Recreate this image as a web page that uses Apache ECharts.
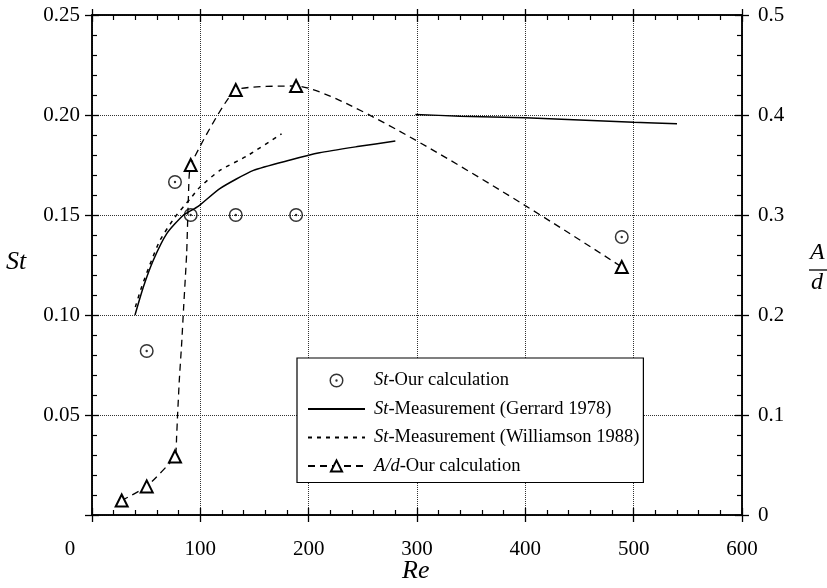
<!DOCTYPE html>
<html><head><meta charset="utf-8">
<script src="https://cdn.jsdelivr.net/npm/echarts@6/dist/echarts.min.js"></script>
<style>html,body{margin:0;padding:0;background:#fff}#c{width:827px;height:588px}</style>
</head><body><div id="c"></div><script>
// ---- data ----
const stOur = [[50.5,0.082],[76.6,0.1665],[91.1,0.150],[132.7,0.150],[188.4,0.150],[489,0.139]];
const gerrard1 = [[39.7,0.100],[47.4,0.114],[56.6,0.1274],[69,0.1407],[84.3,0.1499],[98,0.1543],[118,0.1632],[149,0.1723],[183,0.1775],[210,0.1811],[245,0.1842],[280,0.187]];
const gerrard2 = [[298.5,0.2003],[340,0.1994],[400,0.1986],[500,0.1964],[540,0.1956]];
const williamson = [[40,0.104],[45.8,0.114],[55,0.1274],[62.8,0.1374],[76.6,0.149],[90.5,0.158],[99.7,0.164],[118,0.1723],[143,0.1795],[175,0.1906]];
const adTri = [[27.4,0.0145],[50.5,0.0286],[76.6,0.0585],[91.1,0.350],[132.7,0.425],[188.4,0.429],[489,0.248]];
const adCurve = [[78.1,0.0785],[79,0.100],[80.6,0.135],[82.8,0.172],[84.6,0.208],[87.4,0.262],[89,0.318]];
const names = ['St-Our calculation','St-Measurement (Gerrard 1978)','St-Measurement (Williamson 1988)','A/d-Our calculation'];

const FONT = 'Liberation Serif';
const adData = adTri.map(p => ({value:p}))
  .concat(adCurve.map(p => ({value:p, symbol:'none'})))
  .sort((a,b) => a.value[0]-b.value[0]);

const circlePath = 'path://M10,0A10,10 0 1,1 10,20A10,10 0 1,1 10,0Z M10,2.1A7.9,7.9 0 1,0 10,17.9A7.9,7.9 0 1,0 10,2.1Z M10,8.3A1.7,1.7 0 1,1 10,11.7A1.7,1.7 0 1,1 10,8.3Z';

const axLine = {show:true, onZero:false, lineStyle:{color:'#000', width:1.5}};
const lbl = {color:'#000', fontFamily:FONT, fontSize:21};
function xAx(pos, inside, opts){
  return Object.assign({type:'value', position:pos, min:0, max:600, interval:100,
    axisLine:axLine, axisTick:{show:true, inside:inside, length:7, lineStyle:{color:'#000', width:1.3}},
    minorTick:{show:false}, axisLabel:{show:false}, splitLine:{show:false}}, opts||{});
}
function yAx(pos, max, itv, inside, opts){
  return Object.assign({type:'value', position:pos, min:0, max:max, interval:itv,
    axisLine:axLine, axisTick:{show:true, inside:inside, length:7, lineStyle:{color:'#000', width:1.3}},
    minorTick:{show:false}, axisLabel:{show:false}, splitLine:{show:false}}, opts||{});
}
const minor = {show:true, splitNumber:5, length:5, lineStyle:{color:'#000', width:1.2}};
const grid = {type:'dotted', color:'#333', width:1};
const noSym = {color:'rgba(0,0,0,0)', borderWidth:0, opacity:0};

const chart = echarts.init(document.getElementById('c'), null, {renderer:'canvas'});
chart.setOption({
  animation:false,
  backgroundColor:'#fff',
  grid:{left:92, right:85, top:15, bottom:73, containLabel:false, outerBoundsMode:'none'},
  xAxis:[
    xAx('bottom', false, {axisLabel:{show:true, margin:24, color:'#000', fontFamily:FONT, fontSize:21,
      formatter:v => v===0 ? '{z|0}' : String(v),
      rich:{z:{fontFamily:FONT, fontSize:21, color:'#000', padding:[0,44,0,0]}}},
      splitLine:{show:true, lineStyle:grid}}),
    xAx('bottom', true, {minorTick:minor}),
    xAx('top', true, {minorTick:minor}),
    xAx('top', false, {axisTick:{show:true, inside:false, length:6, lineStyle:{color:'#000', width:1.3}}})
  ],
  yAxis:[
    yAx('left', 0.25, 0.05, false, {axisLabel:Object.assign({show:true, margin:12,
      formatter:v => v===0 ? '' : v.toFixed(2)}, lbl), splitLine:{show:true, lineStyle:grid}}),
    yAx('left', 0.25, 0.05, true, {minorTick:minor}),
    yAx('right', 0.5, 0.1, false, {axisLabel:Object.assign({show:true, margin:16,
      formatter:v => v===0 ? '0' : v.toFixed(1)}, lbl)}),
    yAx('right', 0.5, 0.1, true, {minorTick:minor})
  ],
  legend:{
    data:[{name:names[0]},{name:names[1], itemStyle:noSym},{name:names[2], itemStyle:noSym},{name:names[3]}],
    orient:'vertical', left:297, top:358,
    padding:[13,4,7,10], itemGap:9.5, itemWidth:57, itemHeight:14,
    backgroundColor:'#fff', borderColor:'#000', borderWidth:1.2, borderRadius:0,
    selectedMode:false,
    textStyle:{color:'#000', fontFamily:FONT, fontSize:18.5, padding:[0,0,0,4],
      rich:{i:{fontStyle:'italic', fontFamily:FONT, fontSize:18.5, color:'#000'},
            n:{fontFamily:FONT, fontSize:18.5, color:'#000'}}},
    formatter:n => { const k = n.indexOf('-'); return '{i|'+n.slice(0,k)+'}{n|'+n.slice(k)+'}'; }
  },
  series:[
    {name:names[0], type:'scatter', data:stOur, symbol:circlePath, symbolSize:14,
     itemStyle:{color:'#000'}, z:6, emphasis:{disabled:true}},
    {name:names[1], type:'line', data:gerrard1, symbol:'none', smooth:0.2, itemStyle:noSym,
     lineStyle:{color:'#000', width:1.5, type:'solid'}, z:3},
    {name:names[1], type:'line', data:gerrard2, symbol:'none', smooth:0.2, itemStyle:noSym,
     lineStyle:{color:'#000', width:1.5, type:'solid'}, z:3},
    {name:names[2], type:'line', data:williamson, symbol:'none', smooth:0.2, itemStyle:noSym,
     lineStyle:{color:'#000', width:1.5, type:[4,5]}, z:3},
    {name:names[3], type:'line', yAxisIndex:2, data:adData, symbol:'emptyTriangle', symbolSize:12,
     smooth:0.15,
     lineStyle:{color:'#000', width:1.3, type:[7,5]},
     itemStyle:{color:'#000', borderColor:'#000', borderWidth:1.4}, z:5, emphasis:{disabled:true}}
  ],
  graphic:[
    {type:'text', left:6, top:249, style:{text:'St', font:'italic 26px "Liberation Serif"', fill:'#000'}},
    {type:'text', left:402, top:558, style:{text:'Re', font:'italic 26px "Liberation Serif"', fill:'#000'}},
    {type:'text', left:810, top:241, style:{text:'A', font:'italic 24px "Liberation Serif"', fill:'#000'}},
    {type:'line', shape:{x1:809, y1:270, x2:827, y2:270}, style:{stroke:'#000', lineWidth:1.3}},
    {type:'text', left:811, top:271, style:{text:'d', font:'italic 24px "Liberation Serif"', fill:'#000'}}
  ]
});
</script></body></html>
